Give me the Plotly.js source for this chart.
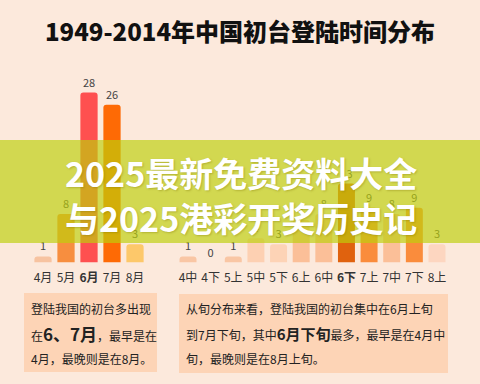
<!DOCTYPE html>
<html>
<head>
<meta charset="utf-8">
<script src="https://cdn.plot.ly/plotly-3.0.1.min.js"></script>
<style>
  html, body { margin: 0; padding: 0; background: #fce9dc; }
  #chart { width: 480px; height: 384px; }
</style>
</head>
<body>
<div id="chart"></div>
<script>
// ---- data ----
const monthCategories = ['4月', '5月', '6月', '7月', '8月'];
const monthTickLabels = ['4月', '5月', '<b>6月</b>', '7月', '8月'];
const monthValues = [1, 8, 28, 26, 3];

const dekadCategories = ['4中', '4下', '5上', '5中', '5下', '6上', '6中', '6下', '7上', '7中', '7下', '8上'];
const dekadTickLabels = ['4中', '4下', '5上', '5中', '5下', '6上', '6中', '<b>6下</b>', '7上', '7中', '7下', '8上'];
const dekadValues = [1, 0, 1, 4, 3, 7, 8, 13, 9, 8, 9, 3];

const titleText = '1949-2014年中国初台登陆时间分布';
const bannerLines = ['2025最新免费资料大全', '与2025港彩开奖历史记'];
const leftNoteLines = [
  '登陆我国的初台多出现',
  '在<b><span style="font-size:17px">6、7月</span></b>，最早是在',
  '4月，最晚则是在8月。'
];
const rightNoteLines = [
  '从旬分布来看，登陆我国的初台集中在6月上旬',
  '到7月下旬，其中<b><span style="font-size:15px">6月下旬</span></b>最多，最早是在4月中',
  '旬，最晚则是在8月上旬。'
];

// ---- styles ----
const monthColors = ['#f7c3a0', '#f78e3f', '#fe5050', '#fe6a05', '#fdc86a'];
const dekadColors = ['#f9c6a4', '#f9c6a4', '#f9c6a4', '#fdd0b2', '#fdd3b6', '#fbbf98', '#fbbf98',
                     '#e0620e', '#fa8c3c', '#fbbf98', '#fa8c3c', '#fdd6c0'];
const FONT = "'Noto Sans CJK SC', 'Noto Sans', sans-serif";
const W = 480, H = 384;
const px = v => v / W;
const py = v => 1 - v / H;

const traces = [
  {
    type: 'bar', x: monthCategories, y: monthValues, xaxis: 'x', yaxis: 'y',
    marker: { color: monthColors, cornerradius: 3 },
    text: monthValues.map(String), textposition: 'outside', cliponaxis: false,
    textfont: { family: FONT, size: 11, color: '#444' },
    hoverinfo: 'none'
  },
  {
    type: 'bar', x: dekadCategories, y: dekadValues, xaxis: 'x2', yaxis: 'y',
    marker: { color: dekadColors, cornerradius: 3 },
    text: dekadValues.map(String), textposition: 'outside', cliponaxis: false,
    textfont: { family: FONT, size: 11, color: '#444' },
    hoverinfo: 'none'
  }
];

const annotations = [];
bannerLines.forEach((t, i) => {
  annotations.push({
    xref: 'paper', yref: 'paper', x: px(241), y: py(173 + i * 44),
    xanchor: 'center', yanchor: 'middle', showarrow: false,
    text: '<b>' + t + '</b>',
    font: { family: FONT, size: 34, color: '#ffffff', weight: 700, shadow: '1px 1px 2px rgba(120,110,0,0.35)' }
  });
});
leftNoteLines.forEach((t, i) => {
  annotations.push({
    xref: 'paper', yref: 'paper', x: px(29), y: py(308 + i * 25),
    xanchor: 'left', yanchor: 'middle', showarrow: false, text: t,
    font: { family: FONT, size: 12, color: '#222' }
  });
});
rightNoteLines.forEach((t, i) => {
  annotations.push({
    xref: 'paper', yref: 'paper', x: px(184), y: py(308 + i * 25),
    xanchor: 'left', yanchor: 'middle', showarrow: false, text: t,
    font: { family: FONT, size: 12, color: '#222' }
  });
});

const shapes = [
  { type: 'rect', xref: 'paper', yref: 'paper', x0: px(24), x1: px(157), y0: py(372), y1: py(293),
    fillcolor: '#fdd4b6', line: { width: 0 }, layer: 'below' },
  { type: 'rect', xref: 'paper', yref: 'paper', x0: px(179), x1: px(448), y0: py(373), y1: py(294),
    fillcolor: '#fdd4b6', line: { width: 0 }, layer: 'below' },
  { type: 'rect', xref: 'paper', yref: 'paper', x0: 0, x1: 1, y0: py(243), y1: py(140),
    fillcolor: 'rgba(190,207,10,0.67)', line: { width: 0 }, layer: 'above' }
];

const xCommon = {
  type: 'category', showgrid: false, zeroline: false, showline: false, ticks: '',
  tickfont: { family: FONT, size: 12, color: '#333' }, ticklabelstandoff: 6, fixedrange: true
};

const layout = {
  width: W, height: H,
  margin: { l: 0, r: 0, t: 0, b: 0 },
  paper_bgcolor: '#fce9dc', plot_bgcolor: 'rgba(0,0,0,0)',
  showlegend: false, bargap: 0.25,
  title: {
    text: titleText, x: 0.5, xanchor: 'center', xref: 'paper',
    y: py(33), yref: 'container', yanchor: 'middle',
    font: { family: FONT, size: 24, color: '#111', weight: 900 }
  },
  xaxis: Object.assign({}, xCommon, {
    domain: [px(31.5), px(146.5)], anchor: 'y',
    tickvals: monthCategories, ticktext: monthTickLabels
  }),
  xaxis2: Object.assign({}, xCommon, {
    domain: [px(176.7), px(448.3)], anchor: 'y',
    tickvals: dekadCategories, ticktext: dekadTickLabels
  }),
  yaxis: {
    domain: [py(262.5), py(80.4)], range: [0, 30], visible: false, fixedrange: true
  },
  shapes: shapes,
  annotations: annotations
};

Plotly.newPlot('chart', traces, layout, { staticPlot: true, displayModeBar: false });
</script>
</body>
</html>
